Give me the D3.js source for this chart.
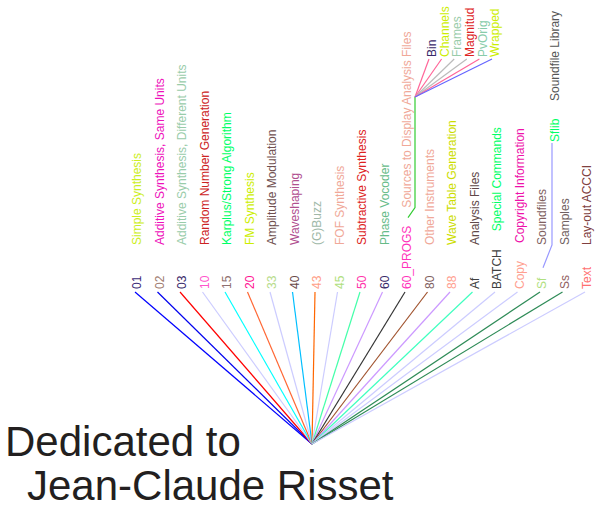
<!DOCTYPE html>
<html>
<head>
<meta charset="utf-8">
<script src="https://cdn.jsdelivr.net/npm/d3@7"></script>
<style>
  body { margin: 0; background: #fff; }
  text { font-family: "Liberation Sans", Arial, sans-serif; }
</style>
</head>
<body>
<svg width="597" height="508"></svg>
<script>
"use strict";

// directory tree, first level
var codes = ["01", "02", "03", "10", "15", "20", "33", "40", "43", "45", "50",
  "60", "60_PROGS", "80", "88", "Af", "BATCH", "Copy", "Sf", "Ss", "Text"];
var descriptions = ["Simple Synthesis", "Additive Synthesis, Same Units",
  "Additive Synthesis, Different Units", "Random Number Generation",
  "Karplus/Strong Algorithm", "FM Synthesis", "Amplitude Modulation",
  "Waveshaping", "(G)Buzz", "FOF Synthesis", "Subtractive Synthesis",
  "Phase Vocoder", "Sources to Display Analysis Files", "Other Instruments",
  "Wave Table Generation", "Analysis Files", "Special Commands",
  "Copyright Information", "Soundfiles", "Samples", "Lay-out ACCCI"];
var codeColors = ["#3c2c78", "#a07c70", "#3a2a6a", "#ff55cc", "#907070", "#ff1493",
  "#b8dc8c", "#6a4a4a", "#ffa088", "#b0e080", "#ff33aa", "#3a2a6a", "#ff33bb",
  "#806060", "#ffa090", "#404040", "#404040", "#ffa090", "#b0e080", "#906060", "#ff7070"];
var descColors = ["#ccee22", "#ee11bb", "#99ccaa", "#cc2222", "#00ff66", "#ccee00",
  "#705050", "#b05090", "#a0b8a8", "#f0a898", "#dd2222", "#66bb88", "#f0a898",
  "#f0a898", "#ccdd00", "#604848", "#00ff66", "#ee11aa", "#806060", "#706060", "#804040"];
var linkColors = ["#0000ff", "#0000ee", "#ff0000", "#ccccff", "#00ffff", "#ff6633",
  "#ccccff", "#00bfff", "#ff6600", "#ccccff", "#44ffaa", "#cc99ff", "#333333",
  "#a0522d", "#cc99ff", "#40ffc0", "#ccccff", "#ccccff", "#2e8b57", "#2e8b57", "#ccccff"];

// 60_PROGS sub folder
var progsFiles = ["Bin", "Channels", "Frames", "Magnitud", "PvOrig", "Wrapped"];
var progsColors = ["#3a2a6a", "#ccee00", "#99ccaa", "#dd2222", "#88ccaa", "#ccee00"];
var progsLinkColors = ["#ff6699", "#ff6699", "#bbbbbb", "#bbbbbb", "#ff6699", "#6666ff"];

// Sf sub folder
var sfFiles = ["Sflib"];
var sfDescriptions = ["Soundfile Library"];

var title = ["Dedicated to", "Jean-Claude Risset"];

var svg = d3.select("svg");
var root = {x: 312, y: 444};
var x = d3.scalePoint().domain(codes).range([137, 587]);
var fx = d3.scalePoint().domain(progsFiles).range([432, 495]);
var labelY = 289;

svg.append("g").selectAll("line")
  .data(codes)
  .enter()
  .append("line")
  .attr("x1", root.x)
  .attr("y1", root.y)
  .attr("x2", d => x(d) - 2)
  .attr("y2", 292)
  .attr("stroke", (d, i) => linkColors[i])
  .attr("stroke-width", 1.2);

function vlabel(g, px, py, txt, color) {
  return g.append("text")
    .attr("transform", "translate(" + px + "," + py + ") rotate(-90)")
    .attr("dy", "0.35em")
    .attr("font-size", 12)
    .attr("fill", color)
    .text(txt);
}

var labels = svg.append("g");
var tops = {};
codes.forEach((c, i) => {
  var t = vlabel(labels, x(c), labelY, c, codeColors[i]);
  var top = labelY - t.node().getComputedTextLength();
  tops[c] = top;
  vlabel(labels, x(c), Math.min(245, top - 18), descriptions[i], descColors[i]);
});

var line = d3.line();

// 60_PROGS -> analysis file sources
var px = x("60_PROGS");
var ptop = tops["60_PROGS"];
var hub = [px + 8, 97];
svg.append("path")
  .attr("d", line([[px + 1, ptop - 8], [hub[0], ptop - 18], hub]))
  .attr("fill", "none")
  .attr("stroke", "#33cc33")
  .attr("stroke-width", 1.2);
svg.append("g").selectAll("line")
  .data(progsFiles)
  .enter()
  .append("line")
  .attr("x1", hub[0])
  .attr("y1", hub[1])
  .attr("x2", d => fx(d) - 3)
  .attr("y2", 59)
  .attr("stroke", (d, i) => progsLinkColors[i])
  .attr("stroke-width", 1.2);
progsFiles.forEach((f, i) => vlabel(labels, fx(f), 57, f, progsColors[i]));

// Sf -> Sflib
var sx = x("Sf");
var stop = tops["Sf"];
svg.append("path")
  .attr("d", line([[sx + 1, stop - 10], [sx + 10, 245], [sx + 10, 143]]))
  .attr("fill", "none")
  .attr("stroke", "#9999ff")
  .attr("stroke-width", 1.2);
sfFiles.forEach((f, i) => {
  vlabel(labels, sx + 13, 142, f, "#00ff66");
  vlabel(labels, sx + 13, 101, sfDescriptions[i], "#555555");
});

svg.append("g").selectAll("text")
  .data(title)
  .enter()
  .append("text")
  .attr("x", (d, i) => i ? 27 : 5)
  .attr("y", (d, i) => i ? 500 : 456)
  .attr("font-size", 42)
  .attr("fill", "#231f20")
  .text(d => d);
</script>
</body>
</html>
